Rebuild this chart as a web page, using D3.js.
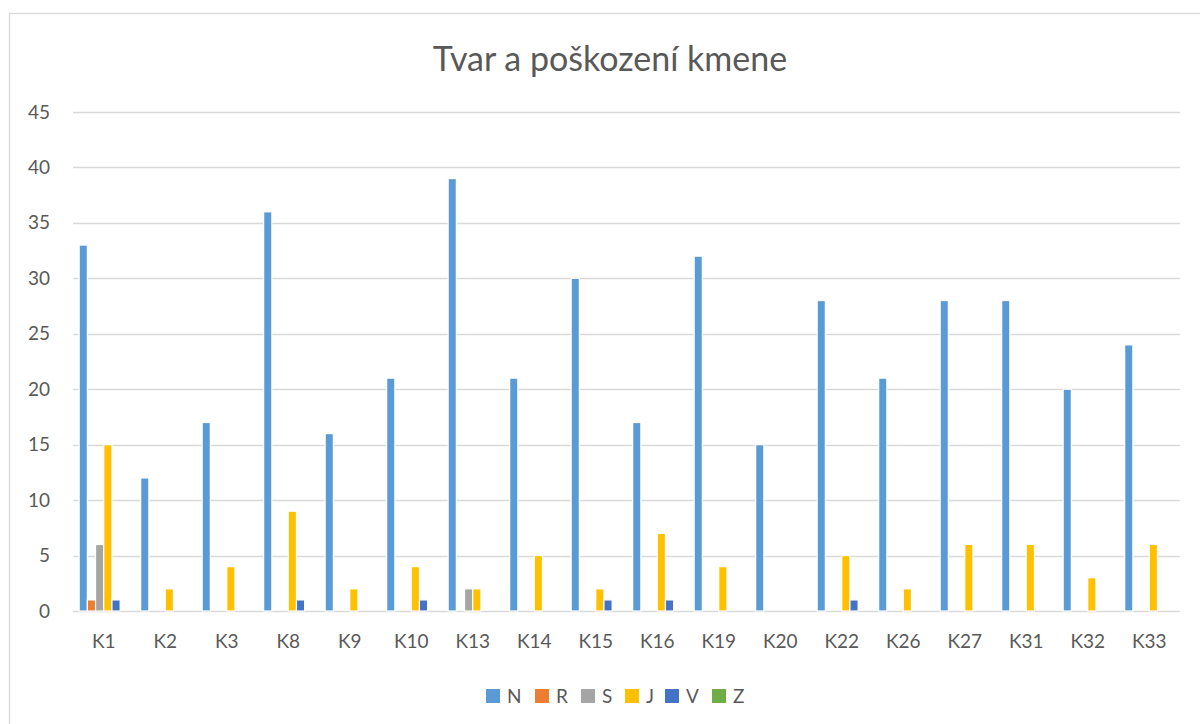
<!DOCTYPE html>
<meta charset="utf-8">
<script src="https://d3js.org/d3.v7.min.js"></script>
<style>
  body { margin: 0; background: #fff; }
  text { font-family: Lato, "Open Sans", sans-serif; fill: #595959; }
</style>
<div id="chart"></div>
<script>
// categories and series values
var categories = ["K1","K2","K3","K8","K9","K10","K13","K14","K15","K16","K19","K20","K22","K26","K27","K31","K32","K33"]
var seriesNames = ["N","R","S","J","V","Z"]
var valN = [33,12,17,36,16,21,39,21,30,17,32,15,28,21,28,28,20,24]
var valR = [1,0,0,0,0,0,0,0,0,0,0,0,0,0,0,0,0,0]
var valS = [6,0,0,0,0,0,2,0,0,0,0,0,0,0,0,0,0,0]
var valJ = [15,2,4,9,2,4,2,5,2,7,4,0,5,2,6,6,3,6]
var valV = [1,0,0,1,0,1,0,0,1,1,0,0,1,0,0,0,0,0]
var valZ = [0,0,0,0,0,0,0,0,0,0,0,0,0,0,0,0,0,0]
var yTicks = [0,5,10,15,20,25,30,35,40,45]

var colors = ["#5B9BD5","#ED7D31","#A5A5A5","#FFC000","#4472C4","#70AD47"]
var allVals = [valN, valR, valS, valJ, valV, valZ]

var width = 1200, height = 724
var plot = {left: 73, right: 1180, top: 112, bottom: 611}

var svg = d3.select("#chart").append("svg")
    .attr("width", width)
    .attr("height", height)

// outer chart border
svg.append("rect")
    .attr("x", 9.5).attr("y", 13.5)
    .attr("width", 1210).attr("height", 730)
    .attr("fill", "none").attr("stroke", "#D9D9D9").attr("stroke-width", 1.3)

// title
svg.append("text")
    .attr("x", 610).attr("y", 71)
    .attr("text-anchor", "middle")
    .style("font-size", "34px")
    .text("Tvar a poškození kmene")

// scales
var x = d3.scaleBand()
    .domain(categories)
    .range([plot.left, plot.right])
    .paddingInner(0).paddingOuter(0)

// gap width 150% -> inner bars take 6 of 7.5 bar widths
var xs = d3.scaleBand()
    .domain(seriesNames)
    .range([x.bandwidth() * 0.1, x.bandwidth() * 0.9])

var y = d3.scaleLinear()
    .domain([0, 45])
    .range([plot.bottom, plot.top])

// gridlines
svg.append("g").selectAll("line")
    .data(yTicks)
    .enter().append("line")
    .attr("x1", plot.left).attr("x2", plot.right)
    .attr("y1", function(d){ return Math.round(y(d)) + 0.5 })
    .attr("y2", function(d){ return Math.round(y(d)) + 0.5 })
    .attr("stroke", "#D9D9D9").attr("stroke-width", 1.3)

// y axis labels
var yAxis = svg.append("g")
    .attr("transform", "translate(" + 50 + ",0)")
    .call(d3.axisLeft(y).tickValues(yTicks).tickSize(0).tickPadding(0))
yAxis.select(".domain").remove()
yAxis.selectAll("text")
    .style("font-size", "19px")
    .style("font-family", "Lato, 'Open Sans', sans-serif")
    .attr("fill", "#595959")

// x axis labels
var xAxis = svg.append("g")
    .attr("transform", "translate(0," + plot.bottom + ")")
    .call(d3.axisBottom(x).tickSize(0).tickPadding(24))
xAxis.select(".domain").remove()
xAxis.selectAll("text")
    .style("font-size", "19px")
    .style("font-family", "Lato, 'Open Sans', sans-serif")
    .attr("fill", "#595959")

// bars
seriesNames.forEach(function(s, si) {
    var vals = allVals[si]
    svg.append("g").selectAll("rect")
        .data(categories)
        .enter().append("rect")
        .attr("x", function(c){ return x(c) + xs(s) })
        .attr("width", xs.bandwidth())
        .attr("y", function(c, i){ return y(vals[i]) })
        .attr("height", function(c, i){ return y(0) - y(vals[i]) })
        .attr("fill", colors[si])
        .attr("stroke", "#fff").attr("stroke-width", 1.2)
})

// legend
var legendX = [486, 535, 581, 625, 665, 712]
var legend = svg.append("g")
seriesNames.forEach(function(s, i) {
    legend.append("rect")
        .attr("x", legendX[i]).attr("y", 689)
        .attr("width", 14).attr("height", 14)
        .attr("fill", colors[i])
    legend.append("text")
        .attr("x", legendX[i] + 21).attr("y", 703)
        .style("font-size", "19px")
        .text(s)
})
</script>
